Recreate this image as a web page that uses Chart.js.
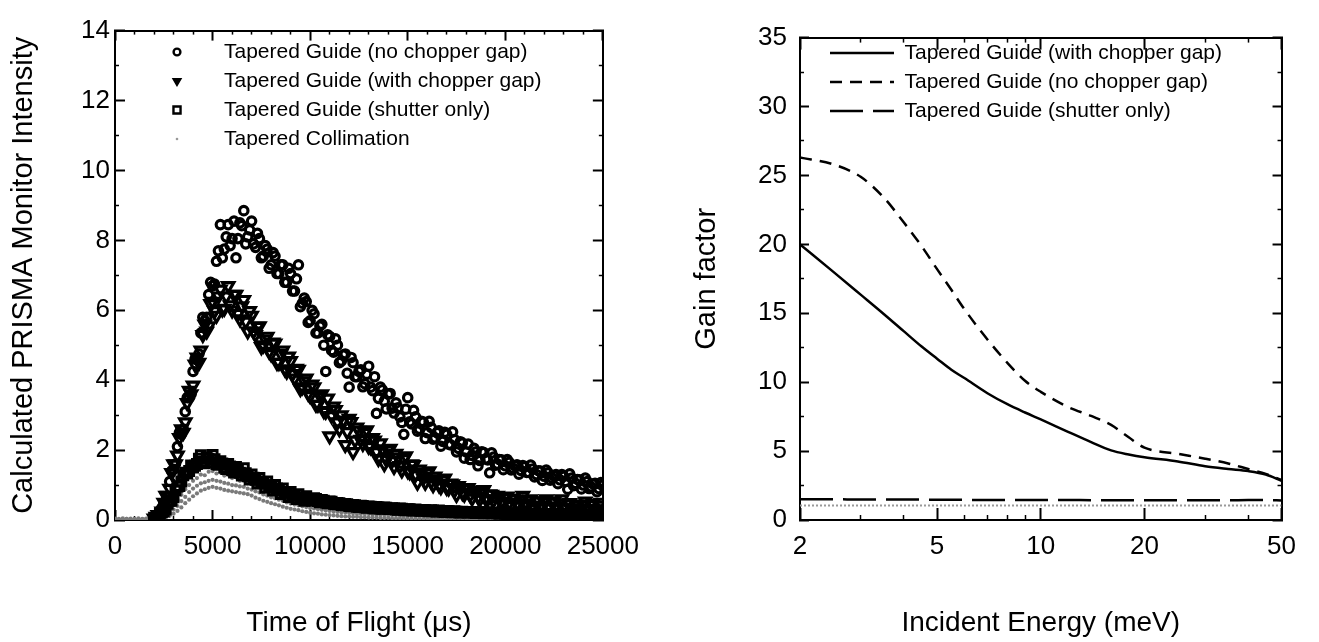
<!DOCTYPE html>
<html><head><meta charset="utf-8">
<script src="https://cdn.jsdelivr.net/npm/chart.js@4.4.1/dist/chart.umd.min.js"></script>
<style>
html,body{margin:0;padding:0;background:#fff;width:1319px;height:642px;overflow:hidden;}
#c1{position:absolute;left:0;top:0;}
#c2{position:absolute;left:660px;top:0;}
</style></head><body>
<canvas id="c1" width="660" height="642"></canvas>
<canvas id="c2" width="659" height="642"></canvas>
<script>
// ---------------- Left panel data (time of flight, μs) ----------------
// samples at even 200 μs steps
const tof = [0,200,400,600,800,1000,1200,1400,1600,1800,2000,2200,2400,2600,2800,3000,3200,3400,3600,3800,4000,4200,4400,4600,4800,5000,5200,5400,5600,5800,6000,6200,6400,6600,6800,7000,7200,7400,7600,7800,8000,8200,8400,8600,8800,9000,9200,9400,9600,9800,10000,10200,10400,10600,10800,11000,11200,11400,11600,11800,12000,12200,12400,12600,12800,13000,13200,13400,13600,13800,14000,14200,14400,14600,14800,15000,15200,15400,15600,15800,16000,16200,16400,16600,16800,17000,17200,17400,17600,17800,18000,18200,18400,18600,18800,19000,19200,19400,19600,19800,20000,20200,20400,20600,20800,21000,21200,21400,21600,21800,22000,22200,22400,22600,22800,23000,23200,23400,23600,23800,24000,24200,24400,24600,24800,25000];
// interleaved samples (odd 100 μs positions)
const tofB = [100,300,500,700,900,1100,1300,1500,1700,1900,2100,2300,2500,2700,2900,3100,3300,3500,3700,3900,4100,4300,4500,4700,4900,5100,5300,5500,5700,5900,6100,6300,6500,6700,6900,7100,7300,7500,7700,7900,8100,8300,8500,8700,8900,9100,9300,9500,9700,9900,10100,10300,10500,10700,10900,11100,11300,11500,11700,11900,12100,12300,12500,12700,12900,13100,13300,13500,13700,13900,14100,14300,14500,14700,14900,15100,15300,15500,15700,15900,16100,16300,16500,16700,16900,17100,17300,17500,17700,17900,18100,18300,18500,18700,18900,19100,19300,19500,19700,19900,20100,20300,20500,20700,20900,21100,21300,21500,21700,21900,22100,22300,22500,22700,22900,23100,23300,23500,23700,23900,24100,24300,24500,24700,24900];

const noChopperGap = [null,null,null,null,null,null,null,null,null,null,
0.03,0.12,0.35,0.55,1.1,1.45,2.1,2.45,3.1,3.5,
4.25,4.6,5.35,5.7,6.45,6.7,7.4,8.45,7.75,8.45,
8.05,7.5,8.5,8.85,8.1,8.55,7.8,8.05,7.55,7.75,
7.3,7.55,7.05,7.3,6.8,7.05,6.55,7.3,6.2,6.25,
5.7,5.9,5.35,5.6,4.25,5.25,4.8,5.0,4.55,4.75,
3.8,4.5,4.1,4.3,3.9,4.4,3.7,3.05,3.8,3.4,
3.6,3.2,3.35,2.95,2.45,3.5,2.75,2.95,2.6,2.8,
2.5,2.65,2.35,2.55,2.25,2.45,2.15,2.3,2.05,2.2,
1.95,1.73,2.05,1.55,1.95,1.75,1.35,1.8,1.6,1.72,
1.55,1.65,1.48,1.58,1.42,1.52,1.36,1.46,1.3,1.4,
1.25,1.35,1.2,1.3,1.15,1.25,0.88,1.2,1.05,1.15,
1.0,1.1,0.95,1.05,0.9,1.0];
const noChopperGapB = [null,null,null,null,null,null,null,null,null,null,
0.08,0.1,0.5,0.65,1.4,1.6,2.5,2.6,3.5,3.6,
4.6,4.75,5.8,5.8,6.8,6.75,7.7,7.5,8.1,7.85,
8.55,8.05,8.42,7.9,8.3,7.9,8.2,7.5,7.85,7.2,
7.65,7.05,7.3,6.8,7.2,6.55,6.9,6.1,6.35,5.65,
6.0,5.35,5.55,5.0,5.3,4.85,5.18,4.5,4.72,4.2,
4.65,4.1,4.25,3.81,4.17,3.8,4.1,3.48,3.72,3.18,
3.62,3.06,3.21,2.79,3.17,2.81,3.14,2.54,2.82,2.33,
2.82,2.31,2.5,2.11,2.51,2.17,2.52,1.95,2.24,1.77,
2.17,1.85,1.95,1.7,1.93,1.72,1.92,1.57,1.73,1.44,
1.73,1.43,1.55,1.31,1.56,1.36,1.57,1.23,1.41,1.13,
1.43,1.14,1.26,1.04,1.3,1.1,1.32,0.98,1.16,0.89,
1.2,0.9,1.03,0.81,1.07];

const withChopperGap = [null,null,null,null,null,null,null,null,null,null,
0.05,0.15,0.25,0.7,0.9,1.6,1.85,2.6,2.8,3.7,
3.85,4.65,4.85,5.6,5.55,6.25,5.85,6.6,6.05,6.7,
6.0,6.45,5.75,6.3,5.4,5.85,5.3,5.55,5.0,5.25,
4.75,5.05,4.5,4.85,4.25,4.55,4.05,4.3,3.8,4.05,
3.55,3.8,3.3,3.6,3.1,2.4,3.25,2.8,3.0,2.15,
2.9,1.95,2.65,2.3,2.5,2.1,2.35,1.95,2.2,1.6,
2.0,1.7,1.9,1.55,1.75,1.4,1.6,1.3,1.45,1.2,
1.35,1.1,1.25,1.0,1.15,0.92,1.05,0.85,0.98,0.78,
0.9,0.72,0.85,0.66,0.78,0.6,0.74,0.56,0.7,0.52,
0.65,0.5,0.62,0.46,0.58,0.44,0.56,0.42,0.54,0.4,
0.52,0.38,0.5,0.36,0.48,0.35,0.47,0.34,0.45,0.33,
0.44,0.32,0.43,0.3,0.42,0.3];
const withChopperGapB = [null,null,null,null,null,null,null,null,null,null,
0.1,0.12,0.5,0.7,1.35,1.6,2.35,2.5,3.35,3.6,
4.45,4.5,5.3,5.4,6.18,5.98,6.4,6.03,6.4,6.15,
6.45,5.9,6.12,5.68,5.98,5.4,5.53,4.95,5.17,4.82,
5.08,4.5,4.75,4.32,4.68,4.18,4.33,3.75,3.97,3.62,
3.88,3.3,3.55,3.12,3.48,2.98,3.15,2.6,2.85,2.52,
2.81,2.28,2.56,2.18,2.57,2.09,2.28,1.75,2.03,1.73,
2.04,1.52,1.8,1.42,1.83,1.37,1.58,1.07,1.36,1.07,
1.4,1.0,1.17,0.94,1.19,0.91,1.03,0.72,0.9,0.73,
0.92,0.62,0.8,0.59,0.86,0.6,0.73,0.44,0.63,0.47,
0.68,0.4,0.6,0.42,0.7,0.46,0.6,0.32,0.54,0.4,
0.6,0.34,0.54,0.38,0.6,0.36,0.49,0.24,0.43,0.33,
0.53,0.28,0.47,0.31,0.5];

const shutterOnly = [null,null,null,null,null,null,null,null,null,null,
0.02,0.08,0.22,0.3,0.55,0.65,0.95,1.1,1.35,1.4,
1.5,1.6,1.85,1.62,1.75,1.86,1.6,1.68,1.5,1.6,
1.42,1.52,1.35,1.48,1.25,1.3,1.15,1.2,1.05,1.1,
0.95,1.0,0.85,0.9,0.78,0.8,0.7,0.74,0.64,0.68,
0.58,0.62,0.54,0.57,0.5,0.53,0.46,0.49,0.43,0.46,
0.4,0.43,0.38,0.41,0.36,0.39,0.35,0.37,0.33,0.36,
0.32,0.34,0.3,0.33,0.29,0.31,0.28,0.3,0.27,0.29,
0.26,0.28,0.25,0.27,0.24,0.26,0.23,0.25,0.22,0.24,
0.22,0.23,0.21,0.22,0.2,0.22,0.2,0.21,0.19,0.2,
0.18,0.19,0.18,0.19,0.17,0.18,0.17,0.18,0.17,0.18,
0.16,0.17,0.16,0.17,0.16,0.17,0.15,0.16,0.15,0.16,
0.15,0.16,0.15,0.15,0.14,0.15];
const shutterOnlyB = [null,null,null,null,null,null,null,null,null,null,
0.04,0.18,0.24,0.46,0.55,0.85,0.97,1.28,1.33,1.56,
1.55,1.75,1.66,1.78,1.65,1.74,1.58,1.62,1.46,1.53,
1.36,1.43,1.27,1.34,1.16,1.21,1.04,1.09,0.92,0.98,
0.84,0.9,0.74,0.8,0.66,0.71,0.6,0.64,0.55,0.6,
0.55,0.6,0.51,0.55,0.48,0.52,0.45,0.48,0.42,0.45,
0.39,0.42,0.37,0.4,0.35,0.38,0.33,0.36,0.32,0.35,
0.31,0.33,0.29,0.32,0.28,0.31,0.27,0.29,0.26,0.28,
0.25,0.27,0.24,0.26,0.23,0.25,0.22,0.24,0.21,0.23,
0.21,0.22,0.2,0.22,0.19,0.21,0.19,0.2,0.18,0.2,
0.17,0.19,0.17,0.18,0.16,0.18,0.16,0.18,0.16,0.17,
0.15,0.17,0.15,0.17,0.15,0.16,0.14,0.16,0.14,0.16,
0.14,0.15,0.14,0.15,0.13];

const collimationUpper = [0.04,0.02,0.05,0.03,0.04,0.02,0.05,0.03,0.04,0.05,
0.05,0.07,0.12,0.2,0.3,0.44,0.58,0.72,0.88,1.0,
1.12,1.2,1.3,1.28,1.38,1.4,1.33,1.36,1.27,1.3,
1.2,1.22,1.12,1.13,1.05,1.02,0.95,0.94,0.87,0.84,
0.8,0.76,0.71,0.69,0.63,0.6,0.56,0.55,0.5,0.48,
0.45,0.43,0.4,0.39,0.36,0.35,0.32,0.32,0.3,0.29,
0.27,0.27,0.25,0.25,0.23,0.23,0.22,0.22,0.21,0.21,
0.2,0.2,0.19,0.19,0.18,0.19,0.17,0.18,0.17,0.17,
0.16,0.17,0.16,0.16,0.15,0.16,0.15,0.15,0.14,0.15,
0.14,0.14,0.13,0.14,0.13,0.14,0.13,0.13,0.12,0.13,
0.12,0.13,0.12,0.12,0.11,0.12,0.11,0.12,0.11,0.11,
0.1,0.11,0.1,0.11,0.1,0.1,0.1,0.11,0.09,0.1,
0.09,0.1,0.09,0.1,0.09,0.09];

const collimationMid = [0.02,0.03,0.01,0.03,0.02,0.03,0.02,0.02,0.03,0.02,
0.03,0.05,0.08,0.13,0.2,0.3,0.4,0.54,0.66,0.8,
0.9,0.98,1.05,1.08,1.12,1.15,1.12,1.1,1.06,1.04,
1.0,0.99,0.96,0.95,0.9,0.87,0.82,0.79,0.73,0.7,
0.65,0.62,0.58,0.55,0.5,0.47,0.44,0.42,0.39,0.37,
0.34,0.33,0.31,0.29,0.27,0.26,0.24,0.23,0.22,0.21,
0.2,0.19,0.18,0.18,0.17,0.17,0.16,0.16,0.15,0.15,
0.14,0.14,0.14,0.13,0.13,0.13,0.12,0.12,0.12,0.11,
0.11,0.11,0.11,0.1,0.1,0.1,0.1,0.1,0.09,0.09,
0.09,0.09,0.09,0.08,0.08,0.08,0.08,0.08,0.08,0.07,
0.07,0.07,0.07,0.07,0.07,0.07,0.06,0.06,0.06,0.06,
0.06,0.06,0.06,0.06,0.06,0.05,0.05,0.05,0.05,0.05,
0.05,0.05,0.05,0.05,0.05,0.05];

const collimationLower = [0.01,0.01,0.02,0.01,0.01,0.02,0.01,0.01,0.02,0.01,
0.02,0.03,0.05,0.08,0.12,0.18,0.26,0.36,0.48,0.58,
0.68,0.76,0.84,0.88,0.92,0.95,0.92,0.9,0.86,0.84,
0.82,0.8,0.78,0.76,0.74,0.7,0.64,0.6,0.55,0.52,
0.48,0.45,0.42,0.38,0.35,0.32,0.3,0.28,0.25,0.23,
0.21,0.19,0.18,0.16,0.15,0.14,0.13,0.12,0.11,0.1,
0.1,0.09,0.09,0.08,0.08,0.07,0.07,0.07,0.06,0.06,
0.06,0.05,0.05,0.05,0.05,0.04,0.04,0.04,0.04,0.04,
0.04,0.03,0.03,0.03,0.03,0.03,0.03,0.03,0.03,0.03,
0.03,0.02,0.02,0.02,0.02,0.02,0.02,0.02,0.02,0.02,
0.02,0.02,0.02,0.02,0.02,0.02,0.02,0.02,0.02,0.02,
0.02,0.02,0.02,0.02,0.02,0.02,0.02,0.02,0.02,0.02,
0.02,0.02,0.02,0.02,0.02,0.02];

const tofTicks = [0,5000,10000,15000,20000,25000];
const tofMinorTicks = [1000,2000,3000,4000,6000,7000,8000,9000,11000,12000,13000,14000,16000,17000,18000,19000,21000,22000,23000,24000];
const intensityTicks = [0,2,4,6,8,10,12,14];
const intensityMinorTicks = [1,3,5,7,9,11,13];

// ---------------- Right panel data (incident energy, meV) ----------------
const energy = [2,2.5,3,3.5,4,4.5,5,5.5,6,7,8,9,10,12,14,16,18,20,25,30,35,40,45,50];
const gainWithGap = [20.0,18.0,16.35,14.95,13.7,12.6,11.7,10.9,10.3,9.2,8.4,7.8,7.3,6.4,5.65,5.05,4.75,4.55,4.25,3.9,3.7,3.55,3.3,2.85];
const gainNoGap = [26.3,25.8,24.9,23.4,21.6,19.9,18.2,16.7,15.3,13.1,11.4,10.1,9.3,8.2,7.55,6.9,6.0,5.25,4.8,4.45,4.1,3.7,3.35,2.9];
const gainShutter = [1.5,1.5,1.49,1.49,1.48,1.48,1.47,1.47,1.46,1.46,1.45,1.45,1.45,1.45,1.44,1.44,1.44,1.44,1.43,1.43,1.43,1.45,1.44,1.42];
const gainCollimation = [1.05,1.05,1.05,1.05,1.05,1.05,1.05,1.05,1.05,1.05,1.05,1.05,1.05,1.05,1.05,1.05,1.05,1.05,1.05,1.05,1.05,1.05,1.05,1.05];

const energyTicks = [2,5,10,20,50];
const energyMinorTicks = [3,4,6,7,8,9,30,40];
const gainTicks = [0,5,10,15,20,25,30,35];
const gainMinorTicks = [2.5,7.5,12.5,17.5,22.5,27.5,32.5];

// ---------------- helpers ----------------
const FONT = '"Liberation Sans", Arial, Helvetica, sans-serif';
Chart.defaults.font.family = FONT;
Chart.defaults.color = '#000';

const pts = (xs, ys) => xs.map((x, i) => ({ x: x, y: ys[i] })).filter(p => p.y !== null && p.y !== undefined);

function axis(o) {
  const horiz = o.axis === 'x';
  return {
    type: o.type, axis: o.axis, position: o.position, min: o.min, max: o.max,
    weight: o.minor ? -1 : 0,
    afterBuildTicks: (s) => { s.ticks = o.values.map(v => ({ value: v })); },
    afterFit: (s) => { if (horiz) { s.height = o.size; } else { s.width = o.size; } },
    grid: { display: true, drawOnChartArea: false, drawTicks: true, tickLength: -o.len,
            tickColor: '#000', tickWidth: o.minor ? 1.5 : 2 },
    border: { display: !o.minor, color: '#000', width: 2 },
    ticks: { display: !!o.labels, color: '#000', font: { family: FONT, size: 26 },
             padding: o.pad || 0, autoSkip: false, maxRotation: 0, minRotation: 0,
             callback: (v) => String(v) },
    title: o.title ? { display: true, text: o.title, color: '#000',
                       font: { family: FONT, size: o.titleSize }, padding: o.titlePad }
                   : { display: false }
  };
}

// place the legend inside the plot frame
const legendPos = {
  id: 'legendPos',
  afterLayout(chart, args, opts) {
    const lg = chart.legend;
    if (!lg || opts.left === undefined) return;
    const w = lg.width, h = lg.height;
    lg.left = opts.left; lg.top = opts.top;
    lg.right = opts.left + w; lg.bottom = opts.top + h;
  }
};

// legend symbols of the scatter panel, drawn with the library's point renderer
const legendMarkers = {
  id: 'legendMarkers',
  afterDraw(chart, args, opts) {
    if (!opts.markers || !chart.legend || !chart.legend.legendHitBoxes) return;
    const ctx = chart.ctx;
    chart.legend.legendHitBoxes.forEach((hb, i) => {
      const m = opts.markers[i];
      if (!m) return;
      const cx = hb.left + opts.dx;
      const cy = hb.top + hb.height / 2;
      ctx.save();
      ctx.lineWidth = m.borderWidth;
      ctx.strokeStyle = m.borderColor;
      ctx.fillStyle = m.backgroundColor;
      Chart.helpers.drawPoint(ctx, { pointStyle: m.pointStyle, rotation: m.rotation || 0,
                                     radius: m.radius, borderWidth: m.borderWidth }, cx, cy);
      ctx.restore();
    });
  }
};

// ---------------- Left chart ----------------
new Chart(document.getElementById('c1'), {
  type: 'scatter',
  plugins: [legendPos, legendMarkers],
  data: {
    datasets: [
      { label: 'Tapered Guide (no chopper gap)',
        data: pts(tof, noChopperGap).concat(pts(tofB, noChopperGapB)), xAxisID: 'x', yAxisID: 'y',
        pointStyle: 'circle', pointRadius: 4.2, pointBorderWidth: 3.2, pointBorderColor: '#000',
        pointBackgroundColor: 'rgba(0,0,0,0)', borderColor: '#000', backgroundColor: 'rgba(0,0,0,0)' },
      { label: 'Tapered Guide (with chopper gap)',
        data: pts(tof, withChopperGap).concat(pts(tofB, withChopperGapB)), xAxisID: 'x', yAxisID: 'y',
        pointStyle: 'triangle', pointRotation: 180, pointRadius: 6.5, pointBorderWidth: 3.2, pointBorderColor: '#000',
        pointBackgroundColor: 'rgba(0,0,0,0)', borderColor: '#000', backgroundColor: 'rgba(0,0,0,0)' },
      { label: 'Tapered Guide (shutter only)',
        data: pts(tof, shutterOnly).concat(pts(tofB, shutterOnlyB)), xAxisID: 'x', yAxisID: 'y',
        pointStyle: 'rect', pointRadius: 6.3, pointBorderWidth: 3, pointBorderColor: '#000',
        pointBackgroundColor: 'rgba(0,0,0,0)', borderColor: '#000', backgroundColor: 'rgba(0,0,0,0)' },
      { label: 'Tapered Collimation',
        data: pts(tof, collimationUpper).concat(pts(tof, collimationMid), pts(tof, collimationLower)),
        xAxisID: 'x', yAxisID: 'y',
        pointStyle: 'circle', pointRadius: 2.1, pointBorderWidth: 0,
        pointBackgroundColor: '#7a7a7a', borderColor: '#7a7a7a', backgroundColor: '#7a7a7a' }
    ]
  },
  options: {
    responsive: false, animation: false, devicePixelRatio: 1, events: [],
    layout: { padding: 0 },
    scales: {
      x: axis({ type: 'linear', axis: 'x', position: 'bottom', min: 0, max: 25000, values: tofTicks,
                labels: true, len: 10, size: 122, pad: 21,
                title: 'Time of Flight (μs)', titleSize: 28, titlePad: { top: 0, bottom: 2 } }),
      xMinor: axis({ type: 'linear', axis: 'x', position: 'bottom', min: 0, max: 25000, values: tofMinorTicks,
                     len: 4, size: 0, minor: true }),
      xTop: axis({ type: 'linear', axis: 'x', position: 'top', min: 0, max: 25000, values: tofTicks,
                   len: 10, size: 18 }),
      xTopMinor: axis({ type: 'linear', axis: 'x', position: 'top', min: 0, max: 25000, values: tofMinorTicks,
                        len: 4, size: 0, minor: true }),
      y: axis({ type: 'linear', axis: 'y', position: 'left', min: 0, max: 14, values: intensityTicks,
                labels: true, len: 10, size: 115, pad: 15,
                title: 'Calculated PRISMA Monitor Intensity', titleSize: 29, titlePad: { top: 7, bottom: 0 } }),
      yMinor: axis({ type: 'linear', axis: 'y', position: 'left', min: 0, max: 14, values: intensityMinorTicks,
                     len: 4, size: 0, minor: true }),
      yRight: axis({ type: 'linear', axis: 'y', position: 'right', min: 0, max: 14, values: intensityTicks,
                     len: 10, size: 42 }),
      yRightMinor: axis({ type: 'linear', axis: 'y', position: 'right', min: 0, max: 14, values: intensityMinorTicks,
                          len: 4, size: 0, minor: true })
    },
    plugins: {
      tooltip: { enabled: false },
      legendPos: { left: 184.5, top: 33.5 },
      legendMarkers: {
        dx: -15.5,
        markers: [
          { pointStyle: 'circle', radius: 3.4, borderWidth: 2.4, borderColor: '#000', backgroundColor: 'rgba(0,0,0,0)' },
          { pointStyle: 'triangle', rotation: 180, radius: 4.6, borderWidth: 1.5, borderColor: '#000', backgroundColor: '#000' },
          { pointStyle: 'rect', radius: 5, borderWidth: 2.4, borderColor: '#000', backgroundColor: 'rgba(0,0,0,0)' },
          { pointStyle: 'circle', radius: 1.3, borderWidth: 0, borderColor: '#999', backgroundColor: '#999' }
        ]
      },
      legend: {
        position: 'chartArea', align: 'start',
        labels: {
          usePointStyle: true, color: '#000', padding: 8,
          font: { family: FONT, size: 21 },
          generateLabels: (chart) => {
            const items = Chart.defaults.plugins.legend.labels.generateLabels(chart);
            items.forEach(it => {
              it.pointStyle = 'circle'; it.rotation = 0; it.lineWidth = 0;
              it.fillStyle = 'rgba(0,0,0,0)'; it.strokeStyle = 'rgba(0,0,0,0)';
            });
            return items;
          }
        }
      }
    }
  }
});

// ---------------- Right chart ----------------
new Chart(document.getElementById('c2'), {
  type: 'line',
  plugins: [legendPos],
  data: {
    datasets: [
      { label: 'Tapered Guide (with chopper gap)', data: pts(energy, gainWithGap), xAxisID: 'x', yAxisID: 'y',
        borderColor: '#000', backgroundColor: '#000', borderWidth: 2.5, borderDash: [],
        pointRadius: 0, fill: false, cubicInterpolationMode: 'monotone' },
      { label: 'Tapered Guide (no chopper gap)', data: pts(energy, gainNoGap), xAxisID: 'x', yAxisID: 'y',
        borderColor: '#000', backgroundColor: '#000', borderWidth: 2.5, borderDash: [12, 8],
        pointRadius: 0, fill: false, cubicInterpolationMode: 'monotone' },
      { label: 'Tapered Guide (shutter only)', data: pts(energy, gainShutter), xAxisID: 'x', yAxisID: 'y',
        borderColor: '#000', backgroundColor: '#000', borderWidth: 2.5, borderDash: [33, 10],
        pointRadius: 0, fill: false, cubicInterpolationMode: 'monotone' },
      { label: 'Tapered Collimation', data: pts(energy, gainCollimation), xAxisID: 'x', yAxisID: 'y',
        borderColor: '#999', backgroundColor: '#999', borderWidth: 2, borderDash: [2, 2],
        pointRadius: 0, fill: false }
    ]
  },
  options: {
    responsive: false, animation: false, devicePixelRatio: 1, events: [],
    layout: { padding: 0 },
    scales: {
      x: axis({ type: 'logarithmic', axis: 'x', position: 'bottom', min: 2, max: 50, values: energyTicks,
                labels: true, len: 12, size: 122, pad: 23,
                title: 'Incident Energy (meV)', titleSize: 28, titlePad: { top: 0, bottom: 2 } }),
      xMinor: axis({ type: 'logarithmic', axis: 'x', position: 'bottom', min: 2, max: 50, values: energyMinorTicks,
                     len: 5, size: 0, minor: true }),
      xTop: axis({ type: 'logarithmic', axis: 'x', position: 'top', min: 2, max: 50, values: energyTicks,
                   len: 12, size: 19 }),
      xTopMinor: axis({ type: 'logarithmic', axis: 'x', position: 'top', min: 2, max: 50, values: energyMinorTicks,
                        len: 5, size: 0, minor: true }),
      y: axis({ type: 'linear', axis: 'y', position: 'left', min: 0, max: 35, values: gainTicks,
                labels: true, len: 9, size: 140, pad: 22,
                title: 'Gain factor', titleSize: 29, titlePad: { top: 30, bottom: 0 } }),
      yMinor: axis({ type: 'linear', axis: 'y', position: 'left', min: 0, max: 35, values: gainMinorTicks,
                     len: 4, size: 0, minor: true }),
      yRight: axis({ type: 'linear', axis: 'y', position: 'right', min: 0, max: 35, values: gainTicks,
                     len: 9, size: 18 }),
      yRightMinor: axis({ type: 'linear', axis: 'y', position: 'right', min: 0, max: 35, values: gainMinorTicks,
                          len: 4, size: 0, minor: true })
    },
    plugins: {
      tooltip: { enabled: false },
      legendPos: { left: 162, top: 34.5 },
      legend: {
        position: 'chartArea', align: 'start',
        labels: {
          usePointStyle: true, pointStyleWidth: 64, color: '#000', padding: 8,
          font: { family: FONT, size: 21 },
          generateLabels: (chart) => {
            const items = Chart.defaults.plugins.legend.labels.generateLabels(chart);
            return items.filter(it => it.datasetIndex < 3).map(it => {
              const ds = chart.data.datasets[it.datasetIndex];
              it.pointStyle = 'line'; it.rotation = 0;
              it.lineDash = ds.borderDash || []; it.lineWidth = ds.borderWidth;
              it.strokeStyle = ds.borderColor; it.fillStyle = ds.borderColor;
              return it;
            });
          }
        }
      }
    }
  }
});
</script>
</body></html>
